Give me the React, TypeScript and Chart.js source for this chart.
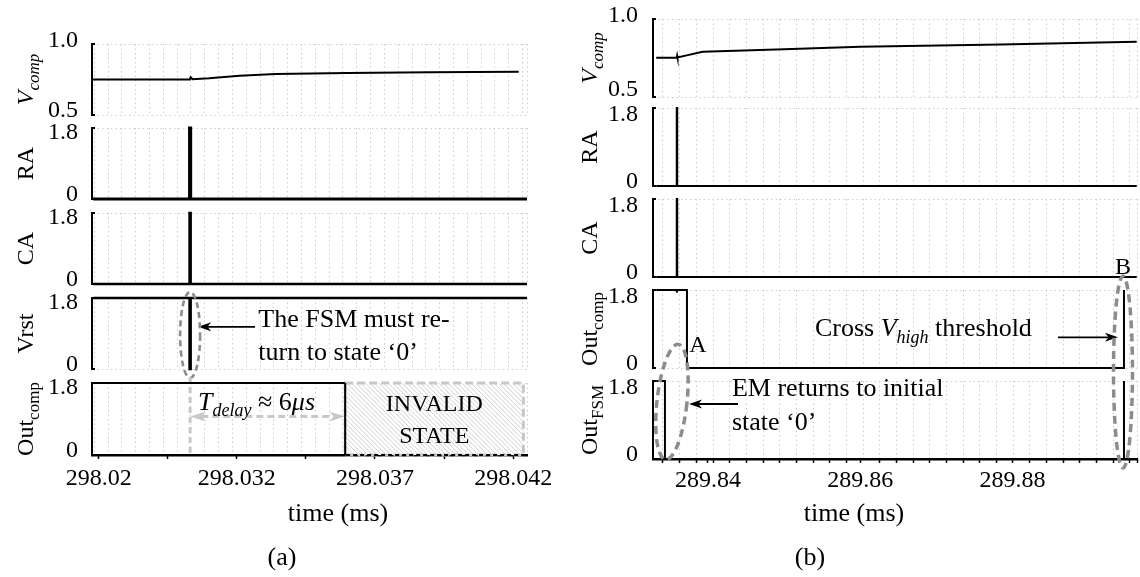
import React, { useEffect, useRef } from 'react';
import { Chart, registerables } from 'chart.js';

Chart.register(...registerables);

const SERIF = '"Liberation Serif", "Times New Roman", serif';
const GRID = '#cdcdcd';
const ELL = '#8c8c8c';
const LIGHT = '#c8c8c8';
const PAGE_H = 577;
const TXT = 26;

// ---------------- Panel (a) data ----------------
const tSpikeA = 298.03031;
const tInvalidA = 298.03592;
const tInvalidEndA = 298.04237;
const xTickValuesA = [298.027, 298.032, 298.037, 298.042];
const xTickLabelsA = ['298.02', '298.032', '298.037', '298.042'];
const xTickMarksA = [298.027, 298.0295, 298.032, 298.0345, 298.037, 298.0395, 298.042];

const vcompTimeA = [298.0268, 298.0303, 298.03033, 298.0304, 298.031, 298.0321, 298.0334, 298.036, 298.039, 298.0422];
const vcompA = [0.75, 0.75, 0.765, 0.752, 0.758, 0.777, 0.789, 0.796, 0.801, 0.805];
const pulseTimeA = [298.0268, 298.03029, 298.03029, 298.03033, 298.03033, 298.0425];
const raA = [0, 0, 1.8, 1.8, 0, 0];
const caA = [0, 0, 1.8, 1.8, 0, 0];
const vrstA = [1.8, 1.8, 0, 0, 1.8, 1.8];
const outcompTimeA = [298.0268, 298.03592, 298.03592, 298.0425];
const outcompA = [1.8, 1.8, 0, 0];

// ---------------- Panel (b) data ----------------
const xTickValuesB = [289.84, 289.86, 289.88];
const xTickLabelsB = ['289.84', '289.86', '289.88'];
const vcompTimeB = [289.8332, 289.8359, 289.83595, 289.836, 289.8372, 289.8393, 289.85, 289.86, 289.8784, 289.8963];
const vcompB = [0.752, 0.752, 0.765, 0.753, 0.767, 0.79, 0.806, 0.822, 0.836, 0.854];
const pulseTimeB = [289.8332, 289.8359, 289.8359, 289.83596, 289.83596, 289.8963];
const raB = [0, 0, 1.8, 1.8, 0, 0];
const caB = [0, 0, 1.8, 1.8, 0, 0];
const outcompTimeB = [289.8332, 289.8359, 289.8359, 289.83596, 289.83724, 289.83724, 289.89463, 289.89463];
const outcompB = [1.8, 1.8, 1.74, 1.8, 1.8, 0, 0, 1.8];
const outFsmTimeB = [289.8332, 289.83435, 289.83435, 289.89463, 289.89463];
const outFsmB = [1.8, 1.8, 0, 0, 1.8];

type Run = { t: string; it?: boolean; sub?: boolean };

function fontStr(r: Run, size: number) {
  const s = r.sub ? Math.round(size * 0.7) : size;
  return `${r.it ? 'italic ' : ''}${s}px ${SERIF}`;
}
function runsWidth(ctx: CanvasRenderingContext2D, runs: Run[], size: number) {
  let w = 0;
  for (const r of runs) {
    ctx.font = fontStr(r, size);
    w += ctx.measureText(r.t).width;
  }
  return w;
}
function drawRuns(ctx: CanvasRenderingContext2D, runs: Run[], x: number, baseline: number, align: string, size = 24) {
  let cx = align === 'center' ? x - runsWidth(ctx, runs, size) / 2 : x;
  ctx.fillStyle = '#000';
  ctx.textAlign = 'left';
  ctx.textBaseline = 'alphabetic';
  for (const r of runs) {
    ctx.font = fontStr(r, size);
    ctx.fillText(r.t, cx, baseline + (r.sub ? size * 0.24 : 0));
    cx += ctx.measureText(r.t).width;
  }
}
function textAt(ctx: CanvasRenderingContext2D, runs: Run[], x: number, cy: number, align: string, size = TXT) {
  drawRuns(ctx, runs, x, cy + size * 0.32, align, size);
}
function ellipse(ctx: CanvasRenderingContext2D, cx: number, cy: number, rx: number, ry: number, rot: number, lw: number, dash: number[]) {
  ctx.save();
  ctx.beginPath();
  ctx.ellipse(cx, cy, rx, ry, rot, 0, Math.PI * 2);
  ctx.setLineDash(dash);
  ctx.lineWidth = lw;
  ctx.strokeStyle = ELL;
  ctx.stroke();
  ctx.restore();
}
function head(ctx: CanvasRenderingContext2D, x: number, y: number, ang: number, len: number, wid: number, color: string) {
  ctx.save();
  ctx.translate(x, y);
  ctx.rotate(ang);
  ctx.beginPath();
  ctx.moveTo(0, 0);
  ctx.lineTo(-len, -wid / 2);
  ctx.lineTo(-len * 0.72, 0);
  ctx.lineTo(-len, wid / 2);
  ctx.closePath();
  ctx.fillStyle = color;
  ctx.fill();
  ctx.restore();
}
function arrow(ctx: CanvasRenderingContext2D, x1: number, y1: number, x2: number, y2: number, color: string, lw: number, dash: number[], len: number, wid: number, both = false) {
  const ang = Math.atan2(y2 - y1, x2 - x1);
  const c = Math.cos(ang), s = Math.sin(ang);
  ctx.save();
  ctx.strokeStyle = color;
  ctx.lineWidth = lw;
  ctx.setLineDash(dash);
  ctx.beginPath();
  ctx.moveTo(both ? x1 + c * len * 0.7 : x1, both ? y1 + s * len * 0.7 : y1);
  ctx.lineTo(x2 - c * len * 0.7, y2 - s * len * 0.7);
  ctx.stroke();
  ctx.setLineDash([]);
  head(ctx, x2, y2, ang, len, wid, color);
  if (both) head(ctx, x1, y1, ang + Math.PI, len, wid, color);
  ctx.restore();
}
function gridList(start: number, step: number, end: number) {
  const out: number[] = [];
  for (let v = start; v <= end + 1e-9; v += step) out.push(v);
  out.push(end);
  return out;
}
const sx = (c: any, v: number) => c.scales.x.getPixelForValue(v);
const sy = (c: any, v: number) => c.scales.y.getPixelForValue(v);

// ---------------- annotations ----------------
function notesVrstA(c: any) {
  const ctx = c.ctx;
  arrow(ctx, sx(c, 298.03266), sy(c, 1.07), sx(c, 298.0306), sy(c, 1.07), '#000', 1.8, [], 13, 9);
  textAt(ctx, [{ t: 'The FSM must re-' }], sx(c, 298.03278), sy(c, 1.268), 'left');
  textAt(ctx, [{ t: 'turn to state ‘0’' }], sx(c, 298.03278), sy(c, 0.431), 'left');
  ellipse(ctx, sx(c, tSpikeA), sy(c, 0.862), 10, 43, 0, 2.6, [6, 4]);
}
function boxOutcompA(c: any) {
  const ctx = c.ctx;
  const x0 = sx(c, tInvalidA), x1 = sx(c, tInvalidEndA), y0 = sy(c, 1.8), y1 = sy(c, 0);
  const w = x1 - x0, h = y1 - y0;
  ctx.save();
  ctx.fillStyle = '#fff';
  ctx.fillRect(x0, y0, w, h);
  ctx.beginPath();
  ctx.rect(x0, y0, w, h);
  ctx.clip();
  ctx.strokeStyle = '#bcbcbc';
  ctx.lineWidth = 0.7;
  ctx.beginPath();
  for (let k = -h; k < w; k += 4.6) {
    ctx.moveTo(x0 + k, y0);
    ctx.lineTo(x0 + k + h, y1);
  }
  ctx.stroke();
  ctx.restore();
  ctx.save();
  ctx.setLineDash([8, 4]);
  ctx.strokeStyle = LIGHT;
  ctx.lineWidth = 3;
  ctx.strokeRect(x0, y0, w, h);
  ctx.restore();
  // T_delay guide line and double arrow
  ctx.save();
  ctx.setLineDash([6, 4]);
  ctx.strokeStyle = LIGHT;
  ctx.lineWidth = 3;
  ctx.beginPath();
  ctx.moveTo(sx(c, tSpikeA), y0 - 6);
  ctx.lineTo(sx(c, tSpikeA), y1 + 2);
  ctx.stroke();
  ctx.restore();
  arrow(ctx, sx(c, tSpikeA), sy(c, 0.96), sx(c, tInvalidA), sy(c, 0.96), LIGHT, 3, [7, 4], 16, 10, true);
}
function notesOutcompA(c: any) {
  const ctx = c.ctx;
  textAt(ctx, [{ t: 'T', it: true }, { t: 'delay', it: true, sub: true }, { t: ' ≈ 6' }, { t: 'μs', it: true }], sx(c, 298.0306), sy(c, 1.33), 'left');
  const mid = (tInvalidA + tInvalidEndA) / 2;
  textAt(ctx, [{ t: 'INVALID' }], sx(c, mid), sy(c, 1.28), 'center', 24);
  textAt(ctx, [{ t: 'STATE' }], sx(c, mid), sy(c, 0.5), 'center', 24);
}
function notesOutcompB(c: any) {
  const ctx = c.ctx;
  textAt(ctx, [{ t: 'Cross ' }, { t: 'V', it: true }, { t: 'high', it: true, sub: true }, { t: ' threshold' }], sx(c, 289.85405), sy(c, 0.923), 'left');
  arrow(ctx, sx(c, 289.88596), sy(c, 0.708), sx(c, 289.89384), sy(c, 0.708), '#000', 1.8, [], 13, 9);
}
function notesOutFsmB(c: any) {
  const ctx = c.ctx;
  ellipse(ctx, sx(c, 289.83527), sy(c, 1.315), 15, 58, 0.11, 3.5, [8, 5]);
  ellipse(ctx, sx(c, 289.8945), sy(c, 2.008), 9.5, 96, 0, 3.5, [8, 5]);
  textAt(ctx, [{ t: 'A' }], sx(c, 289.83869), sy(c, 2.654), 'center', 24);
  textAt(ctx, [{ t: 'B' }], sx(c, 289.8945), sy(c, 4.454), 'center', 24);
  arrow(ctx, sx(c, 289.84394), sy(c, 1.269), sx(c, 289.83751), sy(c, 1.269), '#000', 1.8, [], 13, 9);
  textAt(ctx, [{ t: 'EM returns to initial' }], sx(c, 289.84315), sy(c, 1.638), 'left');
  textAt(ctx, [{ t: 'state ‘0’' }], sx(c, 289.84315), sy(c, 0.861), 'left');
}

// ---------------- layout ----------------
const VCOMP_T: Run[] = [{ t: 'V', it: true }, { t: 'comp', it: true, sub: true }];

const panels: any[] = [
  {
    left: 0, width: 560, yAxisW: 92, padRight: 33, titleOff: 59, yLabelPad: 14,
    xMin: 298.02676, xMax: 298.0425,
    grid: gridList(298.02684, 0.0005, 298.0425),
    tickMarks: xTickMarksA, tickValues: xTickValuesA, tickLabels: xTickLabelsA, labelPad: 5,
    xTitleX: 338, xTitleY: 513, cap: '(a)', capX: 282, capY: 557,
    subs: [
      { title: VCOMP_T, time: vcompTimeA, vals: vcompA, yMin: 0.5, yMax: 1.0, yLabels: ['0.5', '1.0'], lblOff: [4, -3], top: 44, h: 71, lw: 2 },
      { title: [{ t: 'RA' }], time: pulseTimeA, vals: raA, yMin: 0, yMax: 1.8, yLabels: ['0', '1.8'], lblOff: [4, 5], top: 128, h: 71, lw: 3 },
      { title: [{ t: 'CA' }], time: pulseTimeA, vals: caA, yMin: 0, yMax: 1.8, yLabels: ['0', '1.8'], lblOff: [4, 5], top: 213, h: 71, lw: 2.5 },
      { title: [{ t: 'Vrst' }], time: pulseTimeA, vals: vrstA, yMin: 0, yMax: 1.8, yLabels: ['0', '1.8'], lblOff: [4, 5], top: 298, h: 71, lw: 2.5, after: notesVrstA },
      { title: [{ t: 'Out' }, { t: 'comp', sub: true }], time: outcompTimeA, vals: outcompA, yMin: 0, yMax: 1.8, yLabels: ['0', '1.8'], lblOff: [4, 5], top: 383, h: 72, lw: 2, dashFrom: tInvalidA, before: boxOutcompA, after: notesOutcompA },
    ],
  },
  {
    left: 560, width: 580, yAxisW: 93, padRight: 3, titleOff: 56, yLabelPad: 15,
    xMin: 289.83278, xMax: 289.89634,
    grid: gridList(289.83409, 0.00219, 289.89634),
    tickMarks: gridList(289.83409, 0.00219, 289.89634), tickValues: xTickValuesB, tickLabels: xTickLabelsB, labelPad: 3,
    xTitleX: 854, xTitleY: 513, cap: '(b)', capX: 810, capY: 557,
    subs: [
      { title: VCOMP_T, time: vcompTimeB, vals: vcompB, yMin: 0.5, yMax: 1.0, yLabels: ['0.5', '1.0'], lblOff: [7, -3], top: 19, h: 78, lw: 2 },
      { title: [{ t: 'RA' }], time: pulseTimeB, vals: raB, yMin: 0, yMax: 1.8, yLabels: ['0', '1.8'], lblOff: [4, 7], top: 108, h: 78, lw: 2 },
      { title: [{ t: 'CA' }], time: pulseTimeB, vals: caB, yMin: 0, yMax: 1.8, yLabels: ['0', '1.8'], lblOff: [4, 7], top: 199, h: 78, lw: 2 },
      { title: [{ t: 'Out' }, { t: 'comp', sub: true }], time: outcompTimeB, vals: outcompB, yMin: 0, yMax: 1.8, yLabels: ['0', '1.8'], lblOff: [4, 7], top: 290, h: 78, lw: 2, after: notesOutcompB },
      { title: [{ t: 'Out' }, { t: 'FSM', sub: true }], time: outFsmTimeB, vals: outFsmB, yMin: 0, yMax: 1.8, yLabels: ['0', '1.8'], lblOff: [4, 7], top: 381, h: 78, lw: 2, padTop: 131, after: notesOutFsmB },
    ],
  },
];

const PAD = 14;

function geometry(panel: any, sub: any, isBottom: boolean) {
  const padTop = sub.padTop ?? PAD;
  const top = sub.top - padTop;
  const height = isBottom ? PAGE_H - top : padTop + sub.h + PAD;
  const below = isBottom ? PAGE_H - (sub.top + sub.h) : 0;
  return { padTop, top, height, below };
}

function zeroPad(s: any) {
  s.paddingTop = 0;
  s.paddingBottom = 0;
  s.paddingLeft = 0;
  s.paddingRight = 0;
}

function buildConfig(panel: any, sub: any, isBottom: boolean): any {
  const g = geometry(panel, sub, isBottom);
  const data = sub.time.map((t: number, i: number) => ({ x: t, y: sub.vals[i] }));
  const labelFor = (v: number) => {
    const i = panel.tickValues.findIndex((tv: number) => Math.abs(tv - v) < 1e-7);
    return i >= 0 ? panel.tickLabels[i] : '';
  };
  const perPx = (sub.yMax - sub.yMin) / sub.h;
  const scales: any = {
    x: {
      type: 'linear', position: 'bottom', min: panel.xMin, max: panel.xMax,
      afterBuildTicks: (s: any) => { s.ticks = panel.grid.map((v: number) => ({ value: v })); },
      afterFit: (s: any) => { s.height = 0; zeroPad(s); },
      ticks: { display: false },
      grid: { color: GRID, lineWidth: 1, drawTicks: false },
      border: { display: isBottom, color: '#000', width: 2.5, dash: [1.5, 3] },
    },
    yl: {
      type: 'linear', position: 'left', weight: 1, min: sub.yMin, max: sub.yMax,
      afterBuildTicks: (s: any) => {
        s.ticks = [{ value: sub.yMin + sub.lblOff[0] * perPx }, { value: sub.yMax - sub.lblOff[1] * perPx }];
      },
      afterFit: (s: any) => { s.width = panel.yAxisW; zeroPad(s); },
      ticks: { padding: panel.yLabelPad, color: '#000', font: { family: SERIF, size: 24 }, callback: (_v: any, i: number) => sub.yLabels[i] },
      grid: { display: false, drawTicks: false },
      border: { display: false },
    },
    y: {
      type: 'linear', position: 'left', weight: 0, min: sub.yMin, max: sub.yMax,
      afterBuildTicks: (s: any) => { s.ticks = [{ value: sub.yMin }, { value: sub.yMax }]; },
      afterFit: (s: any) => { s.width = 0; zeroPad(s); },
      ticks: { display: false },
      grid: { color: GRID, lineWidth: 1, drawTicks: false },
      border: { display: true, color: '#000', width: 2, dash: [1.5, 3] },
    },
  };
  if (isBottom) {
    const marks = panel.tickMarks.filter((m: number) => !panel.tickValues.some((tv: number) => Math.abs(tv - m) < 0.0004));
    const all = [...marks, ...panel.tickValues].sort((a: number, b: number) => a - b);
    scales.x2 = {
      type: 'linear', position: 'bottom', weight: 1, min: panel.xMin, max: panel.xMax,
      afterBuildTicks: (s: any) => { s.ticks = all.map((v: number) => ({ value: v })); },
      afterFit: (s: any) => { s.height = g.below; zeroPad(s); },
      ticks: { autoSkip: false, maxRotation: 0, minRotation: 0, padding: panel.labelPad, color: '#000', font: { family: SERIF, size: 24 }, callback: (v: number) => labelFor(v) },
      grid: { drawOnChartArea: false, drawTicks: true, tickLength: 4, tickColor: '#000', tickWidth: 1.5, color: 'rgba(0,0,0,0)' },
      border: { display: false },
    };
  }
  const deco = {
    id: 'deco',
    beforeDatasetsDraw(c: any) {
      if (sub.before) { c.ctx.save(); sub.before(c); c.ctx.restore(); }
    },
    afterDraw(c: any) {
      const ctx = c.ctx;
      const a = c.chartArea;
      ctx.save();
      ctx.translate(a.left - panel.titleOff, (a.top + a.bottom) / 2);
      ctx.rotate(-Math.PI / 2);
      drawRuns(ctx, sub.title, 0, 0, 'center', 24);
      ctx.restore();
      ctx.save();
      ctx.strokeStyle = '#000';
      ctx.lineWidth = 2;
      ctx.beginPath();
      ctx.moveTo(a.left - 1, a.top); ctx.lineTo(a.left + 3, a.top);
      ctx.moveTo(a.left - 1, a.bottom); ctx.lineTo(a.left + 3, a.bottom);
      ctx.stroke();
      ctx.restore();
      if (sub.after) { ctx.save(); sub.after(c); ctx.restore(); }
      if (isBottom) {
        ctx.save();
        const ly = (py: number) => py - g.top;
        const lx = (px: number) => px - panel.left;
        textAt(ctx, [{ t: 'time (ms)' }], lx(panel.xTitleX), ly(panel.xTitleY), 'center');
        textAt(ctx, [{ t: panel.cap }], lx(panel.capX), ly(panel.capY), 'center');
        ctx.restore();
      }
    },
  };
  return {
    type: 'scatter',
    data: {
      datasets: [{
        data, showLine: true, borderColor: '#000', backgroundColor: '#000', borderWidth: sub.lw,
        pointRadius: 0, pointHoverRadius: 0, fill: false, tension: 0, clip: false,
        borderCapStyle: 'butt', borderJoinStyle: 'miter',
        xAxisID: 'x', yAxisID: 'y',
        segment: sub.dashFrom !== undefined ? {
          borderDash: (ctx: any) => (ctx.p0.parsed.x >= sub.dashFrom - 1e-9 ? [4, 3] : undefined),
        } : undefined,
      }],
    },
    options: {
      animation: false, responsive: false, devicePixelRatio: 1, events: [],
      layout: { padding: { top: g.padTop, bottom: isBottom ? 0 : PAD, left: 0, right: panel.padRight }, autoPadding: false },
      plugins: { legend: { display: false }, tooltip: { enabled: false }, title: { display: false } },
      scales,
    },
    plugins: [deco],
  };
}

function SubPlot({ panel, sub, isBottom }: any) {
  const ref = useRef<HTMLCanvasElement>(null);
  const g = geometry(panel, sub, isBottom);
  useEffect(() => {
    const chart = new Chart(ref.current as HTMLCanvasElement, buildConfig(panel, sub, isBottom));
    return () => chart.destroy();
  }, []);
  return (
    <canvas
      ref={ref}
      width={panel.width}
      height={g.height}
      style={{ position: 'absolute', left: panel.left, top: g.top, width: panel.width, height: g.height }}
    />
  );
}

export default function App() {
  return (
    <div style={{ position: 'absolute', left: 0, top: 0, width: 1140, height: PAGE_H, background: '#fff', overflow: 'hidden' }}>
      {panels.map((p, pi) =>
        p.subs.map((s: any, si: number) => (
          <SubPlot key={`${pi}-${si}`} panel={p} sub={s} isBottom={si === p.subs.length - 1} />
        ))
      )}
    </div>
  );
}
